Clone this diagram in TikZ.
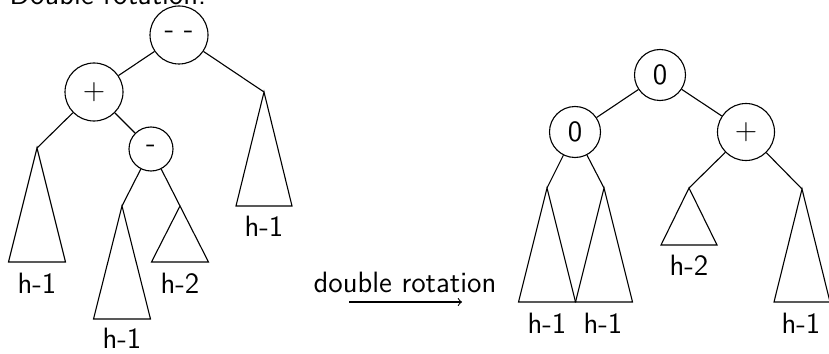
\documentclass[tikz,border=0pt]{standalone}
\begin{document}
\begin{tikzpicture}[x=0.5pt,y=-0.5pt,line width=0.55pt,
  every node/.style={font=\sffamily\fontsize{14.7}{17}\selectfont},
  bal/.style={draw,circle,inner sep=0pt,minimum size=#1},
  lab/.style={anchor=base,inner sep=0pt},
  edge/.style={draw}]
\useasboundingbox (0,0) rectangle (829,353);
% title
\node[anchor=base west,inner sep=0pt] (title) at (9,5) {Double rotation:};
% ---- left tree ----
\node[bal=29pt] (R1) at (179,35) {- -};
\node[bal=29pt] (P1) at (94,92) {+};
\node[bal=22pt] (M1) at (151,149) {-};
\coordinate (a1) at (37,148);
\coordinate (a2) at (264,92);
\coordinate (a3) at (122,206);
\coordinate (a4) at (180,206);
\draw (R1) -- (P1);
\draw (R1) -- (a2);
\draw (P1) -- (a1);
\draw (P1) -- (M1);
\draw (M1) -- (a3);
\draw (M1) -- (a4);
\draw (a1) -- ++(-28.5,114) -- ++(57,0) -- cycle;
\draw (a2) -- ++(-28,114) -- ++(56,0) -- cycle;
\draw (a3) -- ++(-28.5,113) -- ++(57,0) -- cycle;
\draw (a4) -- ++(-28.5,56) -- ++(57,0) -- cycle;
\node[lab] (l1) at (37,293) {h-1};
\node[lab] (l2) at (264,236) {h-1};
\node[lab] (l3) at (122,348) {h-1};
\node[lab] (l4) at (180,293) {h-2};
% ---- arrow ----
\coordinate (arrS) at (349,302);
\coordinate (arrE) at (462,302);
\draw[->] (arrS) -- (arrE);
\node[lab] (arrlab) at (405,292) {double rotation};
% ---- right tree ----
\node[bal=25.5pt] (R2) at (660,75) {0};
\node[bal=25.5pt] (L2) at (575,132) {0};
\node[bal=28.5pt] (P2) at (746,132) {+};
\coordinate (b1) at (547,188);
\coordinate (b2) at (604,188);
\coordinate (b3) at (689,188);
\coordinate (b4) at (802,189);
\draw (R2) -- (L2);
\draw (R2) -- (P2);
\draw (L2) -- (b1);
\draw (L2) -- (b2);
\draw (P2) -- (b3);
\draw (P2) -- (b4);
\draw (b1) -- ++(-28.5,114) -- ++(57,0) -- cycle;
\draw (b2) -- ++(-28.5,114) -- ++(57,0) -- cycle;
\draw (b3) -- ++(-28,57) -- ++(56,0) -- cycle;
\draw (b4) -- ++(-28,113) -- ++(56,0) -- cycle;
\node[lab] (r1) at (547,333) {h-1};
\node[lab] (r2) at (603,333) {h-1};
\node[lab] (r3) at (689,275) {h-2};
\node[lab] (r4) at (801,333) {h-1};
\end{tikzpicture}
\end{document}
